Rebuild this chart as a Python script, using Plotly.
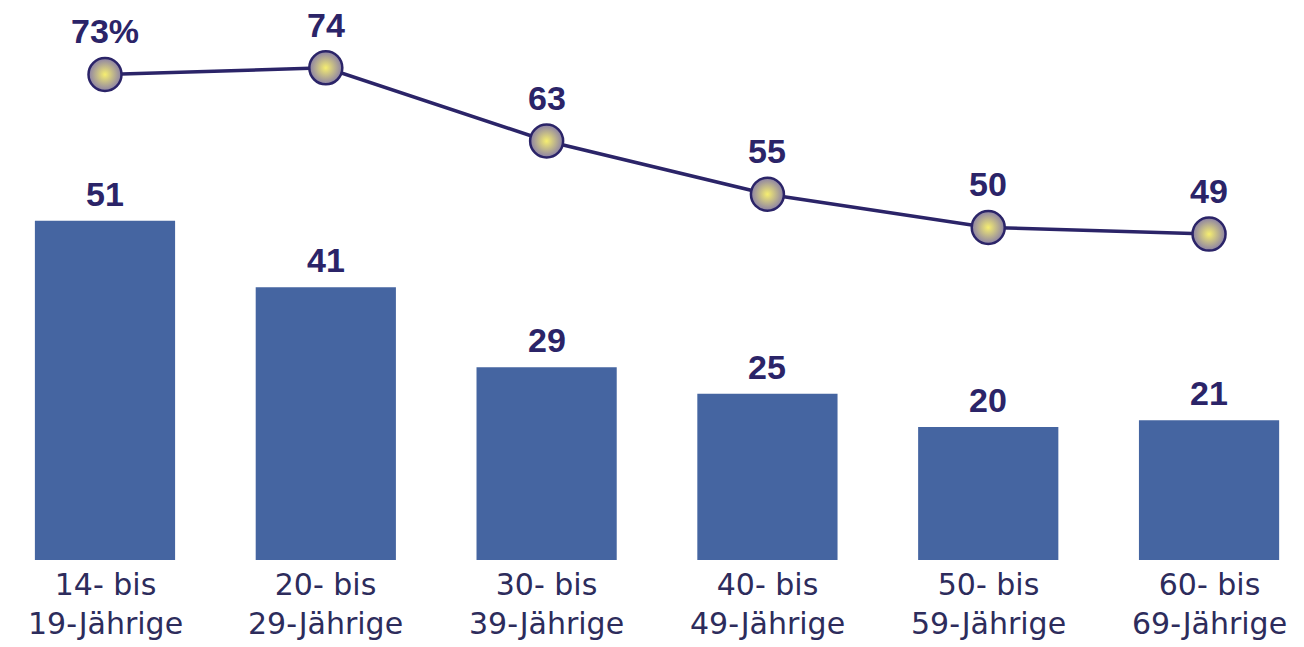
import plotly.graph_objects as go

categories = ["14- bis<br>19-Jährige", "20- bis<br>29-Jährige", "30- bis<br>39-Jährige",
              "40- bis<br>49-Jährige", "50- bis<br>59-Jährige", "60- bis<br>69-Jährige"]
bar_values = [51, 41, 29, 25, 20, 21]
line_values = [73, 74, 63, 55, 50, 49]
line_labels = ["73%", "74", "63", "55", "50", "49"]

x = list(range(len(categories)))

navy = "#2b2468"
fig = go.Figure()
fig.add_trace(go.Bar(
    x=x, y=bar_values, width=0.635,
    marker=dict(color="#4565a1", line=dict(width=0)),
))
fig.add_trace(go.Scatter(
    x=x, y=line_values, mode="lines+markers",
    line=dict(color=navy, width=3.5),
    marker=dict(size=33, color="#8a80a6",
                gradient=dict(type="radial", color="#f6ee70"),
                line=dict(color=navy, width=2.5)),
    cliponaxis=False,
))

label_font = dict(family="Liberation Sans", size=34, color=navy)
for xi, v in zip(x, bar_values):
    fig.add_annotation(x=xi, y=v, text="<b>%d</b>" % v, showarrow=False,
                       yanchor="bottom", yshift=6, font=label_font)
for xi, v, t in zip(x, line_values, line_labels):
    fig.add_annotation(x=xi, y=v, text="<b>%s</b>" % t, showarrow=False,
                       yanchor="bottom", yshift=22, font=label_font)

tick_font = dict(family="DejaVu Sans", size=30, color="#2d2c5c")
for xi, t in zip(x, categories):
    fig.add_annotation(x=xi, y=0, text=t, showarrow=False, yanchor="middle",
                       yshift=-44, font=tick_font)

fig.update_layout(
    width=1304, height=647,
    margin=dict(l=0, r=0, t=0, b=87),
    plot_bgcolor="white", paper_bgcolor="white",
    showlegend=False,
)
fig.update_xaxes(
    range=[-0.4755, 5.43], tickvals=x, showticklabels=False,
    showgrid=False, zeroline=False, showline=False, ticks="",
)
fig.update_yaxes(range=[0, 84.2], visible=False, showgrid=False)

fig.write_html("out.html")
